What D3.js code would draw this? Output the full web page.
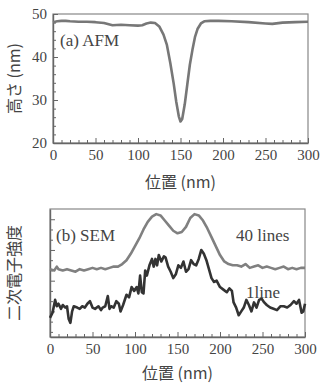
<!DOCTYPE html>
<html>
<head>
<meta charset="utf-8">
<script src="https://cdn.jsdelivr.net/npm/d3@7"></script>
<style>
  body { margin: 0; background: #fff; }
  svg text { font-family: "Liberation Serif", "DejaVu Serif", serif; fill: #444; }
  .jp { font-family: "Noto Sans CJK JP", sans-serif; }
</style>
</head>
<body>
<div id="chart"></div>
<script>
// (a) AFM height profile
const afmX = [0, 5, 10, 15, 20, 30, 40, 50, 60, 70, 80, 90, 100, 105, 110, 115, 120, 125, 130, 134, 138, 142, 145, 148, 150, 152, 155, 158, 161, 164, 167, 170, 174, 178, 185, 195, 210, 230, 250, 258, 270, 285, 300];
const afmY = [48.1, 48.3, 48.4, 48.4, 48.3, 48.2, 48.2, 48.1, 47.9, 47.4, 47.5, 47.4, 47.3, 47.4, 47.8, 48.0, 47.9, 47.1, 45.2, 42.8, 38.6, 33.8, 29.6, 26.2, 25.0, 25.6, 29.0, 33.6, 38.2, 41.6, 44.6, 46.5, 47.8, 48.3, 48.4, 48.4, 48.3, 48.1, 47.8, 47.7, 48.0, 48.1, 48.2];

// (b) SEM secondary electron intensity (arbitrary units)
const sem40X = [0, 5, 8, 10, 15, 20, 25, 30, 35, 40, 45, 50, 55, 60, 65, 70, 75, 80, 85, 90, 95, 100, 105, 110, 115, 120, 125, 130, 135, 140, 145, 150, 155, 160, 165, 170, 175, 180, 185, 190, 195, 200, 205, 210, 215, 220, 225, 230, 235, 240, 245, 250, 255, 260, 265, 270, 275, 280, 285, 290, 295, 300];
const sem40Y = [5.3, 5.2, 5.5, 5.3, 5.2, 5.3, 5.2, 5.1, 5.3, 5.2, 5.3, 5.4, 5.3, 5.4, 5.3, 5.4, 5.5, 5.5, 5.7, 6.0, 6.5, 7.1, 7.7, 8.4, 9.0, 9.4, 9.6, 9.5, 9.1, 8.7, 8.3, 8.1, 8.2, 8.6, 9.3, 9.6, 9.5, 9.1, 8.5, 7.8, 7.1, 6.4, 5.9, 5.7, 5.6, 5.6, 5.5, 5.7, 5.4, 5.5, 5.6, 5.4, 5.5, 5.4, 5.3, 5.4, 5.5, 5.3, 5.4, 5.3, 5.4, 5.4];
const sem1X = [0, 3, 6, 8, 10, 13, 15, 18, 20, 22, 24, 26, 28, 32, 35, 38, 41, 44, 47, 50, 53, 57, 60, 62, 65, 68, 70, 72, 75, 78, 81, 83, 86, 90, 93, 96, 99, 102, 104, 106, 108, 110, 112, 114, 117, 120, 122, 124, 126, 128, 131, 134, 136, 139, 142, 145, 148, 151, 154, 157, 160, 163, 166, 169, 172, 175, 178, 181, 184, 187, 190, 193, 196, 200, 204, 208, 211, 214, 216, 219, 222, 225, 228, 231, 234, 237, 240, 243, 246, 249, 252, 255, 259, 263, 267, 271, 275, 279, 283, 287, 290, 293, 296, 298, 300];
const sem1Y = [1.5, 1.9, 2.9, 2.4, 2.6, 2.2, 2.5, 2.3, 2.4, 1.4, 1.1, 2.0, 2.4, 2.3, 2.2, 2.4, 2.3, 2.6, 2.8, 2.3, 2.2, 2.4, 2.1, 2.3, 2.4, 3.2, 2.2, 2.4, 2.3, 2.8, 2.6, 2.0, 2.5, 3.3, 3.1, 3.9, 3.6, 3.9, 3.4, 4.8, 3.5, 3.4, 5.2, 4.8, 5.6, 6.1, 5.5, 6.1, 5.6, 6.4, 5.9, 6.3, 6.2, 5.5, 5.1, 4.6, 4.9, 5.6, 5.4, 5.9, 5.1, 5.3, 6.0, 5.7, 5.6, 6.1, 6.8, 6.5, 6.0, 5.3, 4.6, 4.3, 4.4, 3.9, 3.7, 3.5, 3.8, 3.6, 2.7, 2.3, 1.7, 2.0, 2.3, 2.9, 2.5, 2.0, 2.7, 2.3, 2.9, 3.0, 2.7, 2.5, 2.3, 2.2, 2.1, 2.4, 2.4, 2.3, 2.5, 2.8, 2.6, 2.9, 1.9, 2.0, 2.6];

const xTicks = [0, 50, 100, 150, 200, 250, 300];
const afmYTicks = [20, 30, 40, 50];

const W = 329, H = 383;
const svg = d3.select('#chart').append('svg').attr('width', W).attr('height', H);
const axisColor = '#666';

function drawPanel(o) {
  const x = d3.scaleLinear().domain([0, 300]).range([o.left, o.right]);
  const y = d3.scaleLinear().domain(o.yDomain).range([o.bottom, o.top]);
  const g = svg.append('g');

  // frame
  g.append('rect').attr('x', o.left).attr('y', o.top)
    .attr('width', o.right - o.left).attr('height', o.bottom - o.top)
    .attr('fill', 'none').attr('stroke', '#888').attr('stroke-width', 1.2);

  // x minor + major ticks, pointing inside
  const xa = g.append('g').attr('transform', `translate(0,${o.bottom})`)
    .call(d3.axisBottom(x).tickValues(d3.range(0, 301, 10)).tickSizeInner(-3).tickSizeOuter(0).tickFormat(''));
  xa.select('.domain').attr('stroke', axisColor).attr('stroke-width', 1.4);
  xa.selectAll('.tick line').attr('stroke', axisColor)
    .attr('y2', d => d % 50 === 0 ? -5 : -3);
  g.append('g').attr('transform', `translate(0,${o.bottom})`)
    .call(d3.axisBottom(x).tickValues(xTicks).tickSize(0).tickPadding(6))
    .call(a => a.select('.domain').remove())
    .selectAll('text').style('font-size', '15px')
    .style('font-family', '"Liberation Serif", serif').attr('fill', '#444');

  // y ticks
  const ya = g.append('g').attr('transform', `translate(${o.left},0)`)
    .call(d3.axisLeft(y).tickValues(o.yMinor).tickSizeInner(-3).tickSizeOuter(0).tickFormat(''));
  ya.select('.domain').attr('stroke', axisColor).attr('stroke-width', 1.4);
  ya.selectAll('.tick line').attr('stroke', axisColor)
    .attr('x2', d => o.yMajor.includes(d) ? 5 : 3);
  if (o.yLabels) {
    g.append('g').attr('transform', `translate(${o.left},0)`)
      .call(d3.axisLeft(y).tickValues(o.yLabels).tickSize(0).tickPadding(6))
      .call(a => a.select('.domain').remove())
      .selectAll('text').style('font-size', '15px')
      .style('font-family', '"Liberation Serif", serif').attr('fill', '#444');
  }

  const line = d3.line().x(d => x(d[0])).y(d => y(d[1]));
  o.series.forEach(s => {
    g.append('path').datum(d3.zip(s.xs, s.ys)).attr('d', line)
      .attr('fill', 'none').attr('stroke', s.color).attr('stroke-width', s.width)
      .attr('stroke-linejoin', 'round');
  });

  // axis titles
  g.append('text').attr('class', 'jp').attr('x', (o.left + o.right) / 2).attr('y', o.xTitleY)
    .attr('text-anchor', 'middle').attr('dominant-baseline', 'central')
    .style('font-size', '16px').text('位置 (nm)');
  g.append('text').attr('class', 'jp')
    .attr('transform', `translate(${o.yTitleX},${(o.top + o.bottom) / 2}) rotate(-90)`)
    .attr('text-anchor', 'middle').attr('dominant-baseline', 'central')
    .style('font-size', '16px').text(o.yTitle);

  o.notes.forEach(n => {
    g.append('text').attr('x', n.x).attr('y', n.y).style('font-size', '17px').text(n.t);
  });
}

drawPanel({
  left: 53, right: 308, top: 14, bottom: 143,
  yDomain: [20, 50],
  yMinor: d3.range(20, 51, 2), yMajor: afmYTicks, yLabels: afmYTicks,
  series: [{ xs: afmX, ys: afmY, color: '#777', width: 2.6 }],
  xTitleY: 181, yTitleX: 13, yTitle: '高さ (nm)',
  notes: [{ x: 60, y: 46, t: '(a) AFM' }]
});

drawPanel({
  left: 50, right: 305, top: 209, bottom: 337,
  yDomain: [0, 10],
  yMinor: d3.range(0.4, 10, 0.8).map(v => +v.toFixed(1)), yMajor: [2, 4.4, 6.8, 9.2],
  yLabels: null,
  series: [
    { xs: sem40X, ys: sem40Y, color: '#808080', width: 2.6 },
    { xs: sem1X, ys: sem1Y, color: '#333', width: 2.6 }
  ],
  xTitleY: 372, yTitleX: 13, yTitle: '二次電子強度',
  notes: [{ x: 56, y: 241, t: '(b) SEM' }, { x: 236, y: 241, t: '40 lines' }, { x: 246, y: 298, t: '1line' }]
});
</script>
</body>
</html>
